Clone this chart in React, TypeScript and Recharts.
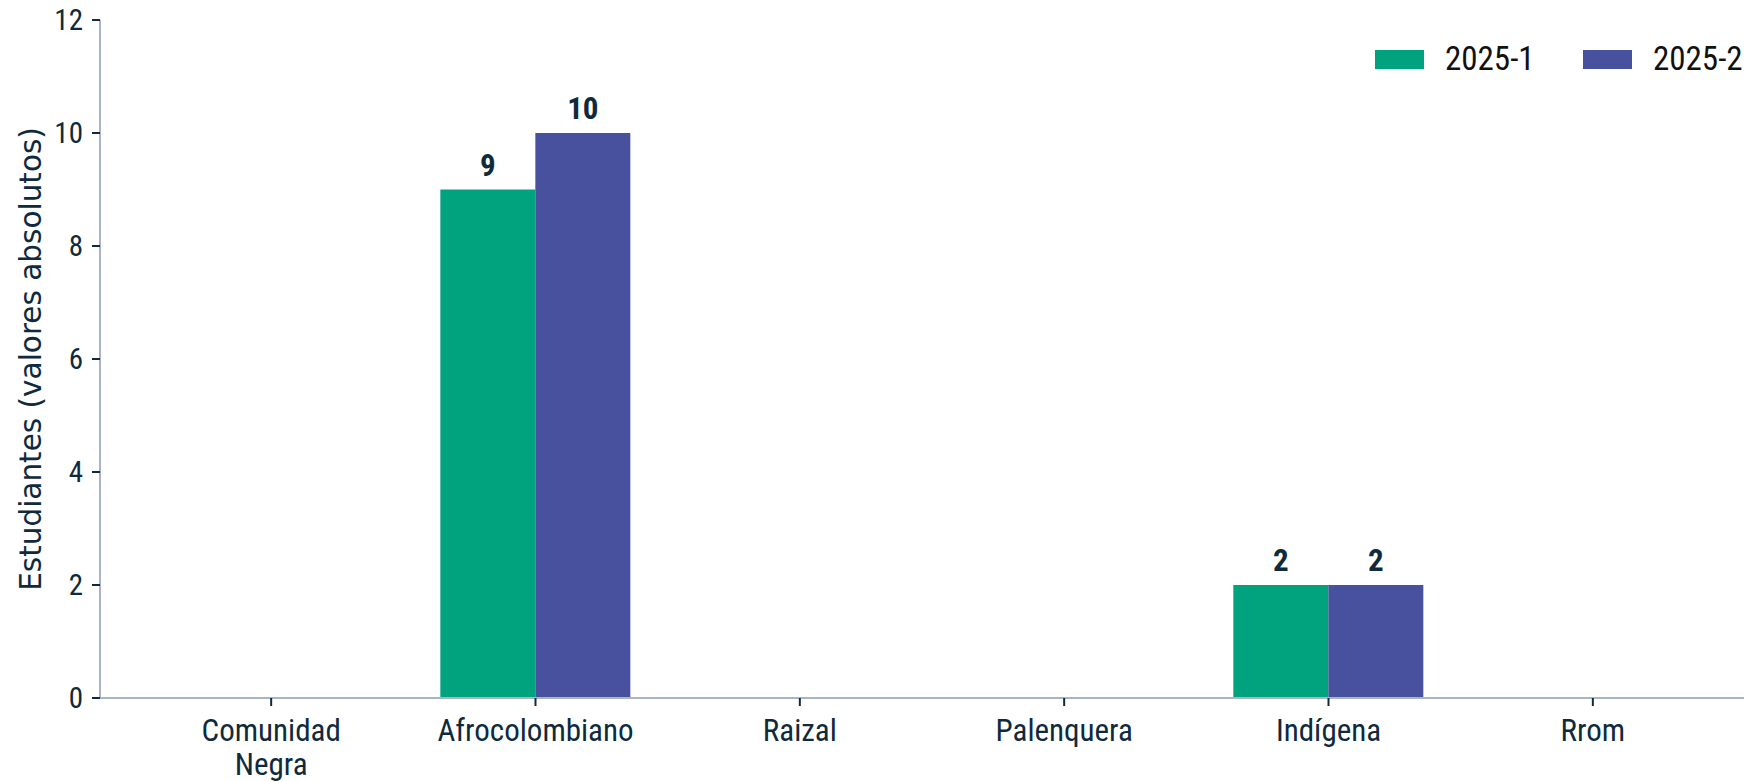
import React from 'react';
import { BarChart, Bar, XAxis, YAxis, LabelList, Legend } from 'recharts';

// ---- data ----
const categories = ['Comunidad Negra', 'Afrocolombiano', 'Raizal', 'Palenquera', 'Indígena', 'Rrom'];
const serie2025_1 = [0, 9, 0, 0, 2, 0];
const serie2025_2 = [0, 10, 0, 0, 2, 0];
const seriesNames = ['2025-1', '2025-2'];
const seriesColors = ['#00A37D', '#47519E'];
const yTicks = [0, 2, 4, 6, 8, 10, 12];

const data = categories.map((c, i) => ({
  name: c,
  s1: serie2025_1[i],
  s2: serie2025_2[i],
}));

const NARROW = "'Roboto Condensed', 'Liberation Sans Narrow', 'DejaVu Sans Condensed', sans-serif";
const TEXT = '#0F2A3D';
const AXIS = '#A9B4C7';

const XTick = (props: any) => {
  const { x, y, payload } = props;
  const lines = String(payload.value).split(' ');
  return (
    <text x={x} y={y} textAnchor="middle" fill={TEXT} fontFamily={NARROW} fontSize={31}>
      {lines.map((l, i) => (
        <tspan key={i} x={x} dy={i === 0 ? 31 : 34}>
          {l}
        </tspan>
      ))}
    </text>
  );
};

const YLabel = (props: any) => {
  const vb = props.viewBox || { x: 0, y: 20, height: 678 };
  const cx = vb.x + 31;
  const cy = vb.y + vb.height / 2;
  return (
    <text
      x={cx}
      y={cy}
      transform={`rotate(-90, ${cx}, ${cy})`}
      textAnchor="middle"
      dominantBaseline="central"
      fill={TEXT}
      fontFamily="'DejaVu Sans', sans-serif"
      fontSize={29.5}
    >
      Estudiantes (valores absolutos)
    </text>
  );
};

const LegendBox = () => (
  <div style={{ position: 'relative', height: 40, fontFamily: NARROW, fontSize: 33, color: '#111' }}>
    {seriesNames.map((n, i) => (
      <div key={n} style={{ position: 'absolute', left: i * 208, top: 0, height: 40, display: 'flex', alignItems: 'center' }}>
        <span style={{ display: 'inline-block', width: 49, height: 19, background: seriesColors[i], marginRight: 21 }} />
        <span style={{ lineHeight: '40px', whiteSpace: 'nowrap' }}>{n}</span>
      </div>
    ))}
  </div>
);

const hideZero = (v: any) => (Number(v) === 0 ? '' : v);

export default function App() {
  return (
    <div style={{ width: 1744, height: 781, overflow: 'hidden', background: '#fff' }}>
      <style>{'body{margin:0}'}</style>
      <BarChart
        width={1744}
        height={781}
        data={data}
        margin={{ top: 20, right: 0, left: 0, bottom: 0 }}
        barCategoryGap={37}
        barGap={0}
      >
        <XAxis
          dataKey="name"
          height={83}
          padding={{ left: 39, right: 19 }}
          axisLine={{ stroke: AXIS, strokeWidth: 2 }}
          tickLine={{ stroke: TEXT, strokeWidth: 2 }}
          tickSize={8}
          tickMargin={4}
          tick={<XTick />}
          interval={0}
        />
        <YAxis
          width={100}
          domain={[0, 12]}
          ticks={yTicks}
          axisLine={{ stroke: AXIS, strokeWidth: 2 }}
          tickLine={{ stroke: TEXT, strokeWidth: 2 }}
          tickSize={8}
          tickMargin={9}
          tick={{ fill: TEXT, fontFamily: NARROW, fontSize: 29 }}
          label={<YLabel />}
        />
        <Legend
          layout="horizontal"
          verticalAlign="middle"
          align="center"
          content={<LegendBox />}
          wrapperStyle={{ top: 39, left: 1375, width: 420, height: 40 }}
        />
        <Bar dataKey="s1" name={seriesNames[0]} fill={seriesColors[0]} isAnimationActive={false}>
          <LabelList dataKey="s1" position="top" offset={14} formatter={hideZero} fill={TEXT} fontFamily={NARROW} fontSize={31} fontWeight="bold" />
        </Bar>
        <Bar dataKey="s2" name={seriesNames[1]} fill={seriesColors[1]} isAnimationActive={false}>
          <LabelList dataKey="s2" position="top" offset={14} formatter={hideZero} fill={TEXT} fontFamily={NARROW} fontSize={31} fontWeight="bold" />
        </Bar>
      </BarChart>
    </div>
  );
}
